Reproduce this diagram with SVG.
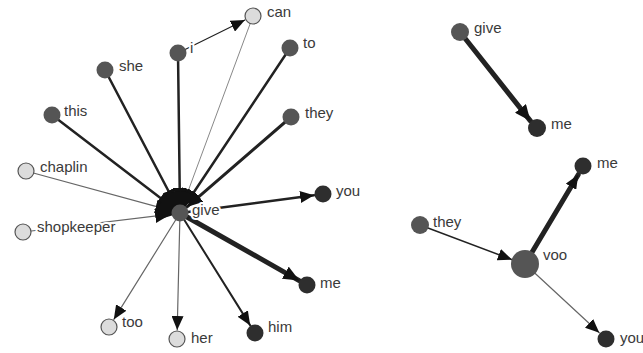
<svg xmlns="http://www.w3.org/2000/svg" width="643" height="353" viewBox="0 0 643 353">
<defs>
<style>
.e{fill:none;stroke:#222;stroke-linecap:round}
.thin{stroke:#666;stroke-width:1.2}
.n1{fill:#555}
.n2{fill:#2e2e2e}
.n3{fill:#dcdcdc;stroke:#555;stroke-width:1.2}
text{font-family:"Liberation Sans",Arial,sans-serif;font-size:15px;fill:#3a3a3a;stroke:#fff;stroke-width:4;stroke-linejoin:round;paint-order:stroke}
</style>
<marker id="a" markerUnits="userSpaceOnUse" markerWidth="14" markerHeight="12" refX="14" refY="6" orient="auto"><path d="M0,0 L14,6 L0,12 z" fill="#111"/></marker>
<marker id="b" markerUnits="userSpaceOnUse" markerWidth="16" markerHeight="14" refX="16" refY="7" orient="auto"><path d="M0,0 L16,7 L0,14 z" fill="#111"/></marker>
</defs>
<rect width="643" height="353" fill="#fff"/>
<g id="edges">
<line class="e thin" x1="253" y1="16" x2="183.1" y2="204.6" style="stroke:#888;stroke-width:1" marker-end="url(#b)"/>
<line class="e" x1="178" y1="53" x2="244.9" y2="20" stroke-width="1.2" marker-end="url(#a)"/>
<line class="e" x1="290" y1="48" x2="185" y2="205.5" stroke-width="2.5" marker-end="url(#b)"/>
<line class="e" x1="291" y1="117" x2="186.8" y2="207.1" stroke-width="3" marker-end="url(#b)"/>
<line class="e" x1="105" y1="70" x2="175.8" y2="205" stroke-width="2.5" marker-end="url(#b)"/>
<line class="e" x1="52" y1="115" x2="172.9" y2="207.5" stroke-width="2.5" marker-end="url(#b)"/>
<line class="e" x1="178" y1="53" x2="179.9" y2="204" stroke-width="2.5" marker-end="url(#b)"/>
<line class="e thin" x1="26" y1="171" x2="171.3" y2="210.6" marker-end="url(#b)"/>
<line class="e thin" x1="23" y1="232" x2="171.1" y2="214.1" marker-end="url(#b)"/>
<path d="M180,213 L159,219.4 A22,22 0 0 1 194.1,196.1 Z" fill="#111"/>
<line class="e" x1="187.9" y1="211.9" x2="314.1" y2="195.2" stroke-width="2.5" marker-end="url(#a)"/>
<line class="e" x1="187" y1="217" x2="299.2" y2="280.6" stroke-width="5" marker-end="url(#b)"/>
<line class="e" x1="184.2" y1="219.8" x2="250.2" y2="325.4" stroke-width="2" marker-end="url(#a)"/>
<line class="e thin" x1="179.8" y1="221" x2="177.2" y2="330" marker-end="url(#a)"/>
<line class="e thin" x1="175.8" y1="219.8" x2="113.8" y2="319.4" marker-end="url(#a)"/>
<line class="e" x1="460" y1="32" x2="530.4" y2="120.9" stroke-width="5" marker-end="url(#b)"/>
<line class="e" x1="420" y1="225" x2="511.9" y2="259.6" stroke-width="1.5" stroke="#444" marker-end="url(#a)"/>
<line class="e" x1="525" y1="264" x2="578.2" y2="174.7" stroke-width="5" marker-end="url(#a)"/>
<line class="e thin" x1="525" y1="264" x2="599.3" y2="332.8" stroke="#555" marker-end="url(#a)"/>
</g>
<g id="node-can"><circle class="n3" cx="253" cy="16" r="8"/><text x="267" y="17">can</text></g>
<g id="node-i"><circle class="n1" cx="178" cy="53" r="8.5"/><text x="190" y="53">i</text></g>
<g id="node-to"><circle class="n1" cx="290" cy="48" r="8.5"/><text x="303" y="48">to</text></g>
<g id="node-she"><circle class="n1" cx="105" cy="70" r="8.5"/><text x="119" y="71">she</text></g>
<g id="node-this"><circle class="n1" cx="52" cy="115" r="8.5"/><text x="64" y="116">this</text></g>
<g id="node-they"><circle class="n1" cx="291" cy="117" r="8.5"/><text x="305" y="118">they</text></g>
<g id="node-chaplin"><circle class="n3" cx="26" cy="171" r="8"/><text x="40" y="172">chaplin</text></g>
<g id="node-shopkeeper"><circle class="n3" cx="23" cy="232" r="8"/><text x="37" y="232">shopkeeper</text></g>
<g id="node-give"><circle class="n1" cx="180" cy="213" r="8.5"/><text x="192" y="215">give</text></g>
<g id="node-you"><circle class="n2" cx="323" cy="194" r="8.5"/><text x="336" y="196">you</text></g>
<g id="node-me"><circle class="n2" cx="307" cy="285" r="8.5"/><text x="320" y="288">me</text></g>
<g id="node-him"><circle class="n2" cx="255" cy="333" r="8.5"/><text x="268" y="332">him</text></g>
<g id="node-her"><circle class="n3" cx="177" cy="339" r="8"/><text x="191" y="343">her</text></g>
<g id="node-too"><circle class="n3" cx="109" cy="327" r="8"/><text x="122" y="327">too</text></g>
<g id="node-give2"><circle class="n1" cx="460" cy="32" r="9"/><text x="474" y="33">give</text></g>
<g id="node-me2"><circle class="n2" cx="537" cy="128" r="9"/><text x="551" y="129">me</text></g>
<g id="node-me3"><circle class="n2" cx="583" cy="166" r="8.5"/><text x="597" y="168">me</text></g>
<g id="node-they2"><circle class="n1" cx="420" cy="225" r="9"/><text x="433" y="227">they</text></g>
<g id="node-voo"><circle class="n1" cx="525" cy="264" r="14"/><text x="543" y="260">voo</text></g>
<g id="node-you2"><circle class="n2" cx="606" cy="339" r="8.5"/><text x="620" y="343">you</text></g>
</svg>
